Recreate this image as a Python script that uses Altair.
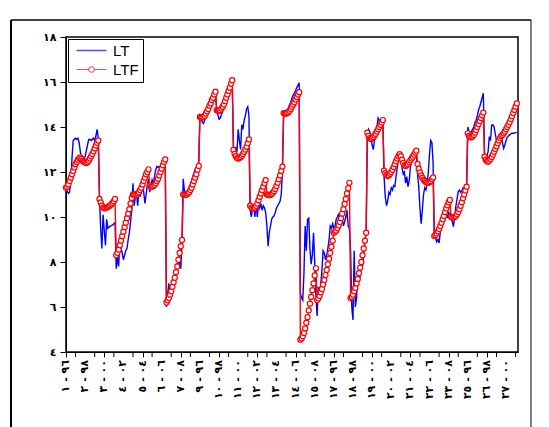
import json
import altair as alt
import pandas as pd

# ---------------- data (panel: 27 cross-sections x 14 years) ----------------
lt = [
    11.25, 11.15, 11.05, 11.1, 11.6, 12.6, 13.4, 13.45, 13.5, 13.45, 13.5, 13.3, 12.9, 12.6,
    12.5, 12.55, 12.7, 12.95, 13.2, 13.45, 13.45, 13.4, 13.45, 13.5, 13.4, 13.6, 13.9, 13.5,
    10.9, 9.5, 8.6, 10.1, 9.4, 8.75, 9.9, 9.5, 9.55, 9.6, 9.62, 9.65, 9.7, 9.75,
    7.7, 8.2, 7.8, 8.8, 8.6, 8.4, 8.1, 8.3, 8.5, 8.6, 9.0, 9.3, 9.8, 10.3,
    11.5, 10.5, 10.9, 11.0, 10.5, 11.3, 10.9, 11.2, 11.4, 11.1, 10.6, 11.0, 11.4, 11.7,
    11.1, 11.4, 11.65, 11.5, 11.8, 12.1, 12.25, 12.2, 12.25, 12.2, 12.0, 12.3, 12.4, 12.5,
    6.0, 6.6, 7.05, 6.6, 6.7, 7.2, 6.95, 7.0, 7.6, 7.95, 7.8, 8.25, 7.7, 8.9,
    11.7, 11.2, 10.85, 11.0, 11.1, 11.3, 11.45, 11.6, 11.8, 11.95, 12.1, 12.2, 12.3, 12.45,
    14.5, 14.4, 14.2, 14.15, 14.3, 14.45, 14.6, 14.8, 14.95, 15.1, 15.3, 15.45, 15.55, 15.6,
    14.7, 14.55, 14.35, 14.4, 14.55, 14.7, 14.85, 15.05, 15.2, 15.4, 15.55, 15.7, 15.85, 16.05,
    13.2, 12.85, 13.1, 12.9, 13.9, 13.4, 13.0, 14.1, 13.9, 14.3, 14.5, 14.8, 14.9, 14.5,
    10.3, 10.0, 10.4, 10.5, 10.0, 10.7, 10.0, 10.6, 10.4, 10.6, 10.3, 10.5, 10.4, 10.2,
    9.6, 8.7, 9.3, 9.6, 9.9, 10.0, 10.05, 10.2, 10.4, 10.5, 10.6, 10.7, 11.0, 12.0,
    14.6, 14.7, 14.75, 14.72, 14.85, 15.0, 15.1, 15.3, 15.42, 15.5, 15.62, 15.75, 15.85, 15.97,
    6.6, 6.4, 6.3, 7.5, 9.6, 8.5, 9.9, 9.95, 8.6, 7.9, 8.3, 9.3, 8.0, 6.5,
    5.6, 6.9, 6.6, 7.0, 7.6, 8.5, 8.4, 8.1, 8.3, 8.6, 9.0, 9.6, 9.5, 9.7,
    9.5, 9.6, 9.9, 10.0, 10.16, 9.7, 10.2, 9.9, 9.6, 9.8, 10.0, 10.3, 9.6, 9.5,
    8.5, 6.0, 5.42, 8.5, 6.0, 6.4, 7.6, 7.1, 7.4, 8.0, 7.8, 8.4, 8.9, 9.3,
    13.6, 13.9, 13.8, 13.5, 13.2, 13.0, 13.4, 13.6, 14.0, 14.4, 14.3, 14.0, 14.3, 14.1,
    11.8, 10.9, 10.5, 10.7, 11.1, 11.0, 11.3, 11.2, 11.4, 11.35, 11.8, 12.2, 12.5, 12.8,
    12.6, 12.2, 11.9, 12.0, 11.5, 11.8, 11.35, 11.6, 12.2, 12.5, 12.7, 12.6, 12.75, 12.8,
    11.9, 11.35, 10.4, 9.7, 10.3, 11.0, 11.3, 11.2, 11.5, 12.0, 12.8, 13.4, 13.3, 12.4,
    9.2, 9.1, 8.9, 9.0, 8.85, 9.3, 9.6, 9.9, 10.0, 9.9, 10.1, 10.0, 10.2, 10.1,
    10.0, 9.8, 9.57, 10.0, 10.46, 10.8, 11.12, 11.2, 11.1, 11.15, 11.3, 11.25, 11.3, 11.3,
    14.0, 13.8, 13.7, 13.8, 13.9, 14.0, 14.2, 14.3, 14.5, 14.76, 14.9, 15.1, 15.3, 15.5,
    12.8, 12.56, 12.7, 12.9, 13.57, 13.4, 14.09, 14.1, 14.0, 13.7, 13.4, 13.27, 13.3, 13.6,
    13.6, 13.3, 13.05, 13.2, 13.4, 13.55, 13.6, 13.65, 13.7, 13.72, 13.72, 13.73, 13.75, 13.75,
]

ltf = [
    11.3, 11.35, 11.45, 11.6, 11.75, 11.9, 12.05, 12.2, 12.35, 12.45, 12.55, 12.62, 12.65, 12.58,
    12.5, 12.45, 12.42, 12.4, 12.43, 12.5, 12.6, 12.7, 12.8, 12.92, 13.05, 13.18, 13.3, 13.4,
    10.8, 10.65, 10.5, 10.42, 10.39, 10.4, 10.42, 10.45, 10.48, 10.52, 10.57, 10.63, 10.7, 10.8,
    8.3, 8.4, 8.55, 8.75, 8.95, 9.15, 9.35, 9.55, 9.75, 9.95, 10.15, 10.35, 10.6, 10.85,
    11.0, 11.0, 10.98, 11.0, 11.05, 11.1, 11.2, 11.3, 11.45, 11.6, 11.75, 11.9, 12.0, 12.12,
    11.4, 11.35, 11.35, 11.38, 11.42, 11.5, 11.6, 11.7, 11.85, 12.0, 12.15, 12.3, 12.45, 12.56,
    6.2, 6.3, 6.4, 6.55, 6.7, 6.9, 7.1, 7.3, 7.55, 7.8, 8.1, 8.4, 8.7, 8.98,
    11.0, 10.98, 10.98, 11.0, 11.05, 11.1, 11.2, 11.3, 11.45, 11.6, 11.75, 11.9, 12.1, 12.27,
    14.45, 14.42, 14.42, 14.45, 14.5, 14.6, 14.7, 14.8, 14.95, 15.05, 15.2, 15.3, 15.45, 15.57,
    14.75, 14.72, 14.72, 14.75, 14.82, 14.9, 15.0, 15.15, 15.3, 15.45, 15.6, 15.75, 15.92, 16.08,
    12.98, 12.8, 12.7, 12.62, 12.6, 12.62, 12.66, 12.72, 12.8, 12.9, 13.0, 13.12, 13.28, 13.45,
    10.5, 10.42, 10.38, 10.38, 10.42, 10.5, 10.6, 10.75, 10.9, 11.05, 11.2, 11.35, 11.5, 11.64,
    11.0, 10.98, 10.97, 10.98, 11.02, 11.08, 11.15, 11.25, 11.38, 11.52, 11.68, 11.85, 12.05, 12.24,
    14.62, 14.6, 14.6, 14.62, 14.66, 14.72, 14.8, 14.9, 15.0, 15.1, 15.22, 15.33, 15.44, 15.55,
    4.55, 4.6, 4.7, 4.85, 5.05, 5.3, 5.55, 5.85, 6.15, 6.45, 6.75, 7.05, 7.4, 7.72,
    6.3, 6.38, 6.5, 6.65, 6.8, 7.0, 7.2, 7.42, 7.65, 7.9, 8.15, 8.4, 8.68, 8.95,
    9.3, 9.35, 9.4, 9.5, 9.62, 9.78, 9.95, 10.15, 10.35, 10.58, 10.8, 11.05, 11.28, 11.52,
    6.4, 6.45, 6.55, 6.7, 6.85, 7.05, 7.25, 7.5, 7.75, 8.0, 8.3, 8.6, 8.95, 9.3,
    13.75, 13.6, 13.5, 13.47, 13.5, 13.55, 13.62, 13.7, 13.8, 13.9, 14.0, 14.1, 14.2, 14.31,
    12.06, 11.95, 11.87, 11.82, 11.85, 11.92, 12.0, 12.1, 12.22, 12.35, 12.48, 12.6, 12.7, 12.79,
    12.7, 12.55, 12.4, 12.3, 12.27, 12.3, 12.36, 12.44, 12.52, 12.6, 12.68, 12.77, 12.86, 12.95,
    12.36, 12.15, 11.98, 11.85, 11.75, 11.66, 11.6, 11.55, 11.52, 11.52, 11.55, 11.6, 11.68, 11.76,
    9.16, 9.2, 9.27, 9.36, 9.47, 9.6, 9.74, 9.9, 10.05, 10.22, 10.38, 10.52, 10.65, 10.76,
    10.0, 9.98, 9.98, 10.0, 10.05, 10.12, 10.22, 10.35, 10.5, 10.66, 10.83, 11.0, 11.18, 11.35,
    13.72, 13.6, 13.55, 13.54, 13.58, 13.65, 13.75, 13.87, 14.0, 14.13, 14.27, 14.4, 14.52, 14.64,
    12.68, 12.55, 12.48, 12.46, 12.5, 12.58, 12.67, 12.78, 12.9, 13.02, 13.15, 13.28, 13.4, 13.52,
    13.6, 13.65, 13.72, 13.8, 13.9, 14.0, 14.1, 14.22, 14.35, 14.48, 14.62, 14.76, 14.9, 15.05,
]

LRM = "\u200e"
x_ids = ["١", "٢", "٣", "٤", "٥", "٦", "٧", "٩", "١٠", "١١", "١٢", "١٣",
         "١٤", "١٥", "١٧", "١٨", "١٩", "٢٠", "٢١", "٢٢", "٢٣", "٢٥", "٢٦", "٢٧"]
x_years = ["٩٦", "٩٨", "٠٠", "٠٢", "٠٤", "٠٦", "٠٨", "٩٦", "٩٨", "٠٠", "٠٢", "٠٤",
           "٠٦", "٠٨", "٩٦", "٩٨", "٠٠", "٠٢", "٠٤", "٠٦", "٠٨", "٩٦", "٩٨", "٠٠"]
y_tick_labels = ["٤", "٦", "٨", "١٠", "١٢", "١٤", "١٦", "١٨"]
series_names = ["LT", "LTF"]

x_labels = [f"{a}{LRM}  -  {LRM}{b}" for a, b in zip(x_ids, x_years)]
label_step = 16          # one label every 16 observations
label_pos = list(range(0, len(lt), label_step))
minor_ticks = list(range(label_step // 2, len(lt), label_step))

n = list(range(len(lt)))
df = pd.DataFrame({
    "obs": n * 2,
    "value": lt + ltf,
    "series": [series_names[0]] * len(lt) + [series_names[1]] * len(ltf),
})
ticks_df = pd.DataFrame({"obs": minor_ticks})
labels_df = pd.DataFrame({"obs": label_pos, "label": x_labels})

x_enc = alt.X("obs:Q", scale=alt.Scale(domain=[0, 378], nice=False, zero=False),
              axis=alt.Axis(values=label_pos, labels=False,
                            tickSize=5, grid=False, title=None,
                            tickColor="black", domainColor="black"))
y_enc = alt.Y("value:Q", scale=alt.Scale(domain=[4, 18], nice=False, zero=False),
              axis=alt.Axis(values=[4, 6, 8, 10, 12, 14, 16, 18],
                            labelExpr=json.dumps(y_tick_labels, ensure_ascii=False) + "[(datum.value - 4) / 2]",
                            tickSize=6, labelPadding=4, grid=False, title=None,
                            labelFont="DejaVu Sans", labelFontSize=11, labelFontWeight="bold",
                            labelColor="black", tickColor="black", domainColor="black"))

LT_PATH = "M-3,0H3"
LTF_PATH = "M-3,0H-0.55M0.55,0H3M0.55,0A0.55,0.55,0,1,1,-0.55,0A0.55,0.55,0,1,1,0.55,0"

legend = alt.Legend(
    orient="top-left", title=None, offset=2, padding=4,
    strokeColor="black", fillColor="white",
    labelFont="Liberation Sans", labelFontSize=15, labelColor="black",
    symbolSize=100, symbolStrokeWidth=1.5, symbolOffset=12, labelOffset=14, rowPadding=3,
)

color = alt.Color("series:N",
                  scale=alt.Scale(domain=series_names, range=["#0000ff", "#ff0000"]),
                  legend=legend, title=None)
shape = alt.Shape("series:N",
                  scale=alt.Scale(domain=series_names, range=[LT_PATH, LTF_PATH]),
                  legend=legend, title=None)

lines = alt.Chart(df).mark_line(strokeWidth=1.4).encode(
    x=x_enc, y=y_enc, color=color,
    strokeWidth=alt.StrokeWidth("series:N", scale=alt.Scale(domain=series_names, range=[1.5, 1.1]), legend=None),
    order="obs:Q",
)

legend_layer = alt.Chart(df).transform_filter("false").mark_point(filled=False, strokeWidth=1.5).encode(
    x="obs:Q", y="value:Q", color=color, shape=shape)

pts = alt.Chart(df).transform_filter(alt.datum.series == "LTF").mark_point(
    shape="circle", filled=True, fill="white", stroke="#ff0000", strokeWidth=1.2, size=26, opacity=1
).encode(x="obs:Q", y="value:Q")

minor = alt.Chart(ticks_df).mark_rule(color="black", strokeWidth=1).encode(
    x="obs:Q", y=alt.value(315), y2=alt.value(320))

xlabels = alt.Chart(labels_df).mark_text(
    angle=270, align="right", baseline="middle", font="DejaVu Sans", fontSize=11,
    fontWeight="bold", color="black"
).encode(x="obs:Q", y=alt.value(323), text="label:N")

frame_data = alt.Data(values=[{}])
frame_left = alt.Chart(frame_data).mark_rule(color="black", strokeWidth=2).encode(
    x=alt.value(-55), y=alt.value(-17), y2=alt.value(390))
frame_right = alt.Chart(frame_data).mark_rule(color="black", strokeWidth=1).encode(
    x=alt.value(465), y=alt.value(-17), y2=alt.value(390))
frame_top = alt.Chart(frame_data).mark_rule(color="black", strokeWidth=1.5).encode(
    x=alt.value(-55), x2=alt.value(465), y=alt.value(-17))

chart = alt.layer(lines, pts, legend_layer, minor, xlabels, frame_left, frame_right, frame_top).properties(
    width=452, height=315, padding={"left": 2, "top": 11, "right": 5, "bottom": 0},
    background="white",
).configure_view(stroke="black", strokeWidth=1.5)

chart.save("out.html", embed_options={"renderer": "svg", "actions": False})
